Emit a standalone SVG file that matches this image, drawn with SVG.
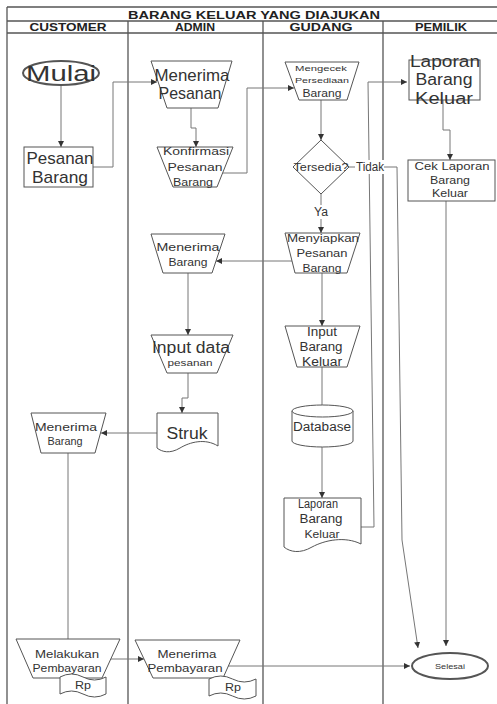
<svg xmlns="http://www.w3.org/2000/svg" width="497" height="704" viewBox="0 0 497 704">
  <style>
    .frame { stroke: #555; stroke-width: 1.3; fill: none; }
    .shape { fill: #fff; stroke: #555; stroke-width: 1; }
    .bold { stroke-width: 2; }
    .conn { fill: none; stroke: #777; stroke-width: 1; marker-end: url(#arrow); }
    .plain { fill: none; stroke: #777; stroke-width: 1; }
    text { font-family: "Liberation Sans", Arial, sans-serif; fill: #333; text-anchor: middle; }
    .hdr { font-weight: bold; font-size: 10px; fill: #222; }
    .title { font-weight: bold; font-size: 11px; fill: #222; }
    .lbg { fill: #fff; stroke: none; }
  </style>
  <defs>
    <marker id="arrow" markerUnits="userSpaceOnUse" markerWidth="7" markerHeight="7" refX="6" refY="3" orient="auto">
      <path d="M0,0 L6,3 L0,6 Z" fill="#333"/>
    </marker>
  </defs>

  <rect width="497" height="704" fill="#fff"/>

  <!-- swimlane frame -->
  <g id="swimlanes">
    <line class="frame" x1="7" y1="7" x2="497" y2="7"/>
    <line class="frame" x1="7" y1="21" x2="497" y2="21"/>
    <line class="frame" x1="7" y1="33" x2="497" y2="33"/>
    <line class="frame" x1="7" y1="7" x2="7" y2="704"/>
    <line class="frame" x1="128" y1="21" x2="128" y2="704"/>
    <line class="frame" x1="263" y1="21" x2="263" y2="704"/>
    <line class="frame" x1="383" y1="21" x2="383" y2="704"/>
    <text class="title" x="254" y="19" textLength="252" lengthAdjust="spacingAndGlyphs">BARANG KELUAR YANG DIAJUKAN</text>
    <text class="hdr" x="68" y="31" textLength="77" lengthAdjust="spacingAndGlyphs">CUSTOMER</text>
    <text class="hdr" x="195" y="31" textLength="40" lengthAdjust="spacingAndGlyphs">ADMIN</text>
    <text class="hdr" x="321" y="31" textLength="63" lengthAdjust="spacingAndGlyphs">GUDANG</text>
    <text class="hdr" x="441" y="31" textLength="52" lengthAdjust="spacingAndGlyphs">PEMILIK</text>
  </g>

  <!-- connectors -->
  <g id="connectors">
    <path class="conn" d="M61,85 V147"/>
    <path class="conn" d="M93,167 H113 V82 H157"/>
    <path class="conn" d="M191,108 V128 H196 V147"/>
    <path class="conn" d="M222,173 H247 V88 H294"/>
    <path class="conn" d="M321,100 V140"/>
    <path class="conn" d="M321,194 V233"/>
    <path class="conn" d="M349,167 H397 L402,540 L418,648"/>
    <path class="conn" d="M443,100 V130 H450 V160"/>
    <path class="conn" d="M446,201 V646"/>
    <path class="conn" d="M295,261 H216"/>
    <path class="conn" d="M188,273 V335"/>
    <path class="conn" d="M322,273 V326"/>
    <path class="plain" d="M322,367 V405"/>
    <path class="conn" d="M322,447 V498"/>
    <path class="conn" d="M361,527 H374 L368,82 H407"/>
    <path class="conn" d="M188,373 V398 H182 V413"/>
    <path class="conn" d="M157,433 H101"/>
    <path class="plain" d="M68,453 V639"/>
    <path class="conn" d="M110,659 H144"/>
    <path class="conn" d="M226,666 H410"/>
  </g>

  <!-- CUSTOMER lane -->
  <g id="mulai">
    <ellipse class="shape bold" cx="61" cy="73" rx="38" ry="12"/>
    <text x="61" y="81" font-size="22" textLength="70" lengthAdjust="spacingAndGlyphs">Mulai</text>
  </g>
  <g id="pesanan-barang">
    <rect class="shape" x="24" y="147" width="69" height="40"/>
    <text x="60" y="164" font-size="17" textLength="67" lengthAdjust="spacingAndGlyphs">Pesanan</text>
    <text x="60" y="183" font-size="17" textLength="56" lengthAdjust="spacingAndGlyphs">Barang</text>
  </g>
  <g id="menerima-barang-customer">
    <polygon class="shape" points="31,413 106,413 95,453 41,453"/>
    <text x="66" y="431" font-size="11" textLength="62" lengthAdjust="spacingAndGlyphs">Menerima</text>
    <text x="65" y="445" font-size="11" textLength="35" lengthAdjust="spacingAndGlyphs">Barang</text>
  </g>
  <g id="melakukan-pembayaran">
    <polygon class="shape" points="16,639 120,639 102,678 33,678"/>
    <text x="67" y="658" font-size="11" textLength="64" lengthAdjust="spacingAndGlyphs">Melakukan</text>
    <text x="67" y="672" font-size="11" textLength="69" lengthAdjust="spacingAndGlyphs">Pembayaran</text>
    <path class="shape" d="M60,677 Q71.5,671 83,677 T106,677 V694 Q94.5,700 83,694 T60,694 Z"/>
    <text x="83" y="689" font-size="11" textLength="16" lengthAdjust="spacingAndGlyphs">Rp</text>
  </g>

  <!-- ADMIN lane -->
  <g id="menerima-pesanan">
    <polygon class="shape" points="151,61 232,61 218,108 167,108"/>
    <text x="192" y="81" font-size="17" textLength="75" lengthAdjust="spacingAndGlyphs">Menerima</text>
    <text x="190" y="99" font-size="17" textLength="63" lengthAdjust="spacingAndGlyphs">Pesanan</text>
  </g>
  <g id="konfirmasi-pesanan">
    <polygon class="shape" points="157,147 233,147 217,187 173,187"/>
    <text x="196" y="155" font-size="10" textLength="66" lengthAdjust="spacingAndGlyphs">Konfirmasi</text>
    <text x="195" y="171" font-size="11" textLength="55" lengthAdjust="spacingAndGlyphs">Pesanan</text>
    <text x="193" y="186" font-size="10" textLength="40" lengthAdjust="spacingAndGlyphs">Barang</text>
  </g>
  <g id="menerima-barang-admin">
    <polygon class="shape" points="151,234 225,234 212,273 163,273"/>
    <text x="188" y="251" font-size="11" textLength="63" lengthAdjust="spacingAndGlyphs">Menerima</text>
    <text x="188" y="266" font-size="11" textLength="39" lengthAdjust="spacingAndGlyphs">Barang</text>
  </g>
  <g id="input-data-pesanan">
    <polygon class="shape" points="151,335 233,335 217,373 167,373"/>
    <text x="191" y="353" font-size="16" textLength="78" lengthAdjust="spacingAndGlyphs">Input data</text>
    <text x="190" y="366" font-size="9" textLength="45" lengthAdjust="spacingAndGlyphs">pesanan</text>
  </g>
  <g id="struk">
    <path class="shape" d="M157,413 H218 V446 C205,438 190,442 180,448 C170,454 162,452 157,448 Z"/>
    <text x="187" y="439" font-size="16" textLength="41" lengthAdjust="spacingAndGlyphs">Struk</text>
  </g>
  <g id="menerima-pembayaran">
    <polygon class="shape" points="135,640 240,640 223,678 153,678"/>
    <text x="187" y="658" font-size="11" textLength="59" lengthAdjust="spacingAndGlyphs">Menerima</text>
    <text x="185" y="672" font-size="11" textLength="75" lengthAdjust="spacingAndGlyphs">Pembayaran</text>
    <path class="shape" d="M209,679 Q220.75,673 232.5,679 T256,679 V696 Q244.25,702 232.5,696 T209,696 Z"/>
    <text x="233" y="691" font-size="11" textLength="16" lengthAdjust="spacingAndGlyphs">Rp</text>
  </g>

  <!-- GUDANG lane -->
  <g id="mengecek-persediaan">
    <polygon class="shape" points="285,62 359,62 347,100 299,100"/>
    <text x="321" y="71" font-size="8" textLength="52" lengthAdjust="spacingAndGlyphs">Mengecek</text>
    <text x="322" y="83" font-size="8" textLength="54" lengthAdjust="spacingAndGlyphs">Persediaan</text>
    <text x="322" y="97" font-size="11" textLength="39" lengthAdjust="spacingAndGlyphs">Barang</text>
  </g>
  <g id="tersedia">
    <polygon class="shape" points="321,140 349,167 321,194 293,167"/>
    <text x="321" y="171" font-size="11" textLength="55" lengthAdjust="spacingAndGlyphs">Tersedia?</text>
  </g>
  <g id="label-tidak">
    <rect class="lbg" x="355" y="160" width="29" height="14"/>
    <text x="370" y="171" font-size="12" textLength="28" lengthAdjust="spacingAndGlyphs">Tidak</text>
  </g>
  <g id="label-ya">
    <rect class="lbg" x="313" y="205" width="16" height="14"/>
    <text x="321" y="216" font-size="12" textLength="14" lengthAdjust="spacingAndGlyphs">Ya</text>
  </g>
  <g id="menyiapkan-pesanan">
    <polygon class="shape" points="285,233 360,233 347,273 295,273"/>
    <text x="323" y="242" font-size="11" textLength="72" lengthAdjust="spacingAndGlyphs">Menyiapkan</text>
    <text x="322" y="257" font-size="11" textLength="51" lengthAdjust="spacingAndGlyphs">Pesanan</text>
    <text x="322" y="272" font-size="11" textLength="39" lengthAdjust="spacingAndGlyphs">Barang</text>
  </g>
  <g id="input-barang-keluar">
    <polygon class="shape" points="285,326 360,326 347,367 297,367"/>
    <text x="322" y="336" font-size="12" textLength="30" lengthAdjust="spacingAndGlyphs">Input</text>
    <text x="321" y="351" font-size="12" textLength="43" lengthAdjust="spacingAndGlyphs">Barang</text>
    <text x="322" y="366" font-size="12" textLength="40" lengthAdjust="spacingAndGlyphs">Keluar</text>
  </g>
  <g id="database">
    <path class="shape" d="M292,411 A30.5,6 0 0 1 353,411 V441 A30.5,6 0 0 1 292,441 Z"/>
    <path class="shape" d="M292,411 A30.5,6 0 0 0 353,411" fill="none"/>
    <text x="322" y="431" font-size="12" textLength="58" lengthAdjust="spacingAndGlyphs">Database</text>
  </g>
  <g id="laporan-gudang">
    <path class="shape" d="M284,498 H361 V544 C345,536 325,540 312,547 C300,554 290,552 284,547 Z"/>
    <text x="318" y="508" font-size="12" textLength="40" lengthAdjust="spacingAndGlyphs">Laporan</text>
    <text x="321" y="523" font-size="12" textLength="43" lengthAdjust="spacingAndGlyphs">Barang</text>
    <text x="322" y="538" font-size="11" textLength="35" lengthAdjust="spacingAndGlyphs">Keluar</text>
  </g>

  <!-- PEMILIK lane -->
  <g id="laporan-pemilik">
    <rect class="shape" x="409" y="60" width="71" height="40"/>
    <text x="445" y="67" font-size="16" textLength="70" lengthAdjust="spacingAndGlyphs">Laporan</text>
    <text x="444" y="85" font-size="16" textLength="57" lengthAdjust="spacingAndGlyphs">Barang</text>
    <text x="444" y="104" font-size="16" textLength="58" lengthAdjust="spacingAndGlyphs">Keluar</text>
  </g>
  <g id="cek-laporan">
    <rect class="shape" x="408" y="160" width="87" height="41"/>
    <text x="452" y="170" font-size="11" textLength="75" lengthAdjust="spacingAndGlyphs">Cek Laporan</text>
    <text x="450" y="184" font-size="11" textLength="40" lengthAdjust="spacingAndGlyphs">Barang</text>
    <text x="450" y="197" font-size="11" textLength="36" lengthAdjust="spacingAndGlyphs">Keluar</text>
  </g>
  <g id="selesai">
    <ellipse class="shape bold" cx="450" cy="666" rx="38" ry="13"/>
    <text x="450" y="668.5" font-size="7" textLength="30" lengthAdjust="spacingAndGlyphs">Selesai</text>
  </g>
</svg>
